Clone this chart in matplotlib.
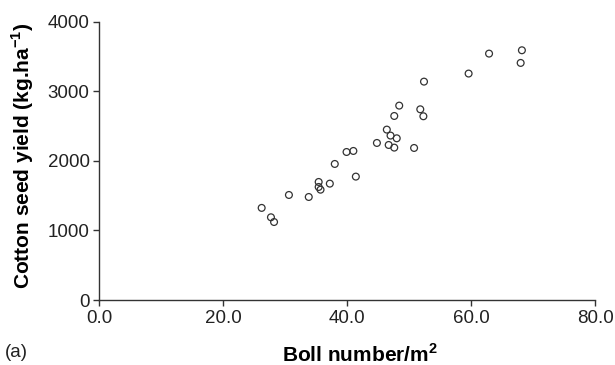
import numpy as np
import matplotlib.pyplot as plt

plt.rcParams['font.family'] = ['Liberation Sans', 'DejaVu Sans']

# boll number per m2 vs cotton seed yield (kg/ha)
boll_number = [26.2, 27.7, 28.2, 30.6, 33.8, 35.4, 35.4, 35.7, 37.2, 38.0,
               39.9, 41.0, 41.4, 44.8, 46.4, 47.0, 48.0, 46.7, 47.6, 47.6,
               48.4, 50.8, 51.8, 52.3, 52.4, 59.6, 62.9, 68.0, 68.2]
seed_yield = [1325, 1190, 1122, 1511, 1482, 1698, 1626, 1587, 1674, 1957,
              2129, 2144, 1775, 2259, 2451, 2365, 2326, 2230, 2192, 2647,
              2796, 2187, 2743, 2643, 3141, 3257, 3544, 3410, 3592]
xticks = [0, 20, 40, 60, 80]
yticks = [0, 1000, 2000, 3000, 4000]

fig = plt.figure(figsize=(6.15, 3.65), dpi=100)
ax = fig.add_axes([0.1615, 0.178, 0.806, 0.762])

ax.scatter(boll_number, seed_yield, s=24, facecolors='none', edgecolors='#333333', linewidths=0.9)

ax.set_xlim(0, 80)
ax.set_ylim(0, 4000)
ax.set_xticks(xticks)
ax.set_xticklabels([f"{v:.1f}" for v in xticks])
ax.set_yticks(yticks)
for s in ['top', 'right']:
    ax.spines[s].set_visible(False)
for s in ['left', 'bottom']:
    ax.spines[s].set_color('#333333')
    ax.spines[s].set_linewidth(1.0)
ax.tick_params(direction='out', length=4, width=1, colors='#333333', labelsize=13.5, labelcolor='#222222', pad=3)

ax.set_xlabel("Boll number/m$^\\mathregular{2}$", fontsize=15, fontweight='bold')
ax.xaxis.set_label_coords(0.526, -0.155)
ax.set_ylabel("Cotton seed yield (kg.ha$^\\mathregular{-1}$)", fontsize=15, fontweight='bold')
ax.yaxis.set_label_coords(-0.128, 0.52)
fig.text(0.008, 0.022, "(a)", fontsize=13.5, color='#222222')

fig.savefig("out.png", dpi=100)
